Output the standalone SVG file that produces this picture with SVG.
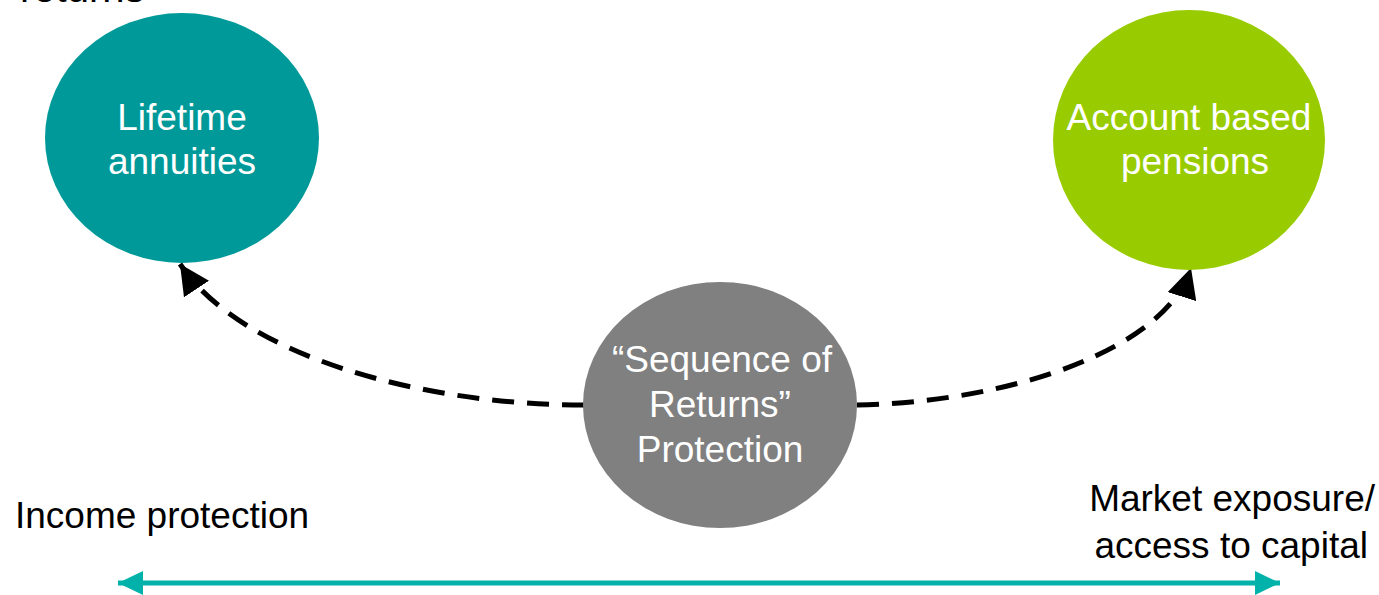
<svg xmlns="http://www.w3.org/2000/svg" width="1379" height="595" viewBox="0 0 1379 595">
<defs>
<style>
.lbl{font-family:"Liberation Sans",Arial,sans-serif;font-size:37px;fill:#fff;text-anchor:middle}
.blk{font-family:"Liberation Sans",Arial,sans-serif;font-size:37px;fill:#000}
.dash{fill:none;stroke:#000;stroke-width:5;stroke-dasharray:22 13}
</style>
<marker id="ah" viewBox="0 0 30 30" refX="30" refY="15" markerWidth="30" markerHeight="30" markerUnits="userSpaceOnUse" orient="auto"><path d="M0,0 L30,15 L0,30 Z" fill="#000"/></marker>
<marker id="ta" viewBox="0 0 25 24" refX="25" refY="12" markerWidth="25" markerHeight="24" markerUnits="userSpaceOnUse" orient="auto-start-reverse"><path d="M0,0 L25,12 L0,24 Z" fill="#00B2A9"/></marker>
</defs>
<rect width="1379" height="595" fill="#fff"/>
<text class="blk" x="20" y="2" style="font-size:40px">returns</text>
<g id="connectors">
<path class="dash" d="M584,405 C420,405 240,355 180,264" marker-end="url(#ah)"/>
<path class="dash" d="M857,405 C1010,402 1165,350 1191,268" marker-end="url(#ah)"/>
<line x1="118" y1="583" x2="1280" y2="583" stroke="#00B2A9" stroke-width="5" marker-start="url(#ta)" marker-end="url(#ta)"/>
</g>
<g id="lifetime">
<ellipse cx="182" cy="138" rx="137" ry="125" fill="#009999"/>
<text class="lbl" x="182" y="130">Lifetime</text>
<text class="lbl" x="182" y="174">annuities</text>
</g>
<g id="account">
<ellipse cx="1189" cy="140" rx="136" ry="130" fill="#99CC00"/>
<text class="lbl" x="1189" y="130">Account based</text>
<text class="lbl" x="1195" y="174">pensions</text>
</g>
<g id="sequence">
<ellipse cx="720" cy="405" rx="137" ry="123" fill="#808080"/>
<text class="lbl" x="722" y="372">“Sequence of</text>
<text class="lbl" x="720" y="417">Returns”</text>
<text class="lbl" x="720" y="462">Protection</text>
</g>
<g id="labels">
<text class="blk" x="15" y="528">Income protection</text>
<text class="blk" x="1375" y="511" text-anchor="end">Market exposure/</text>
<text class="blk" x="1368" y="558" text-anchor="end">access to capital</text>
</g>
</svg>
